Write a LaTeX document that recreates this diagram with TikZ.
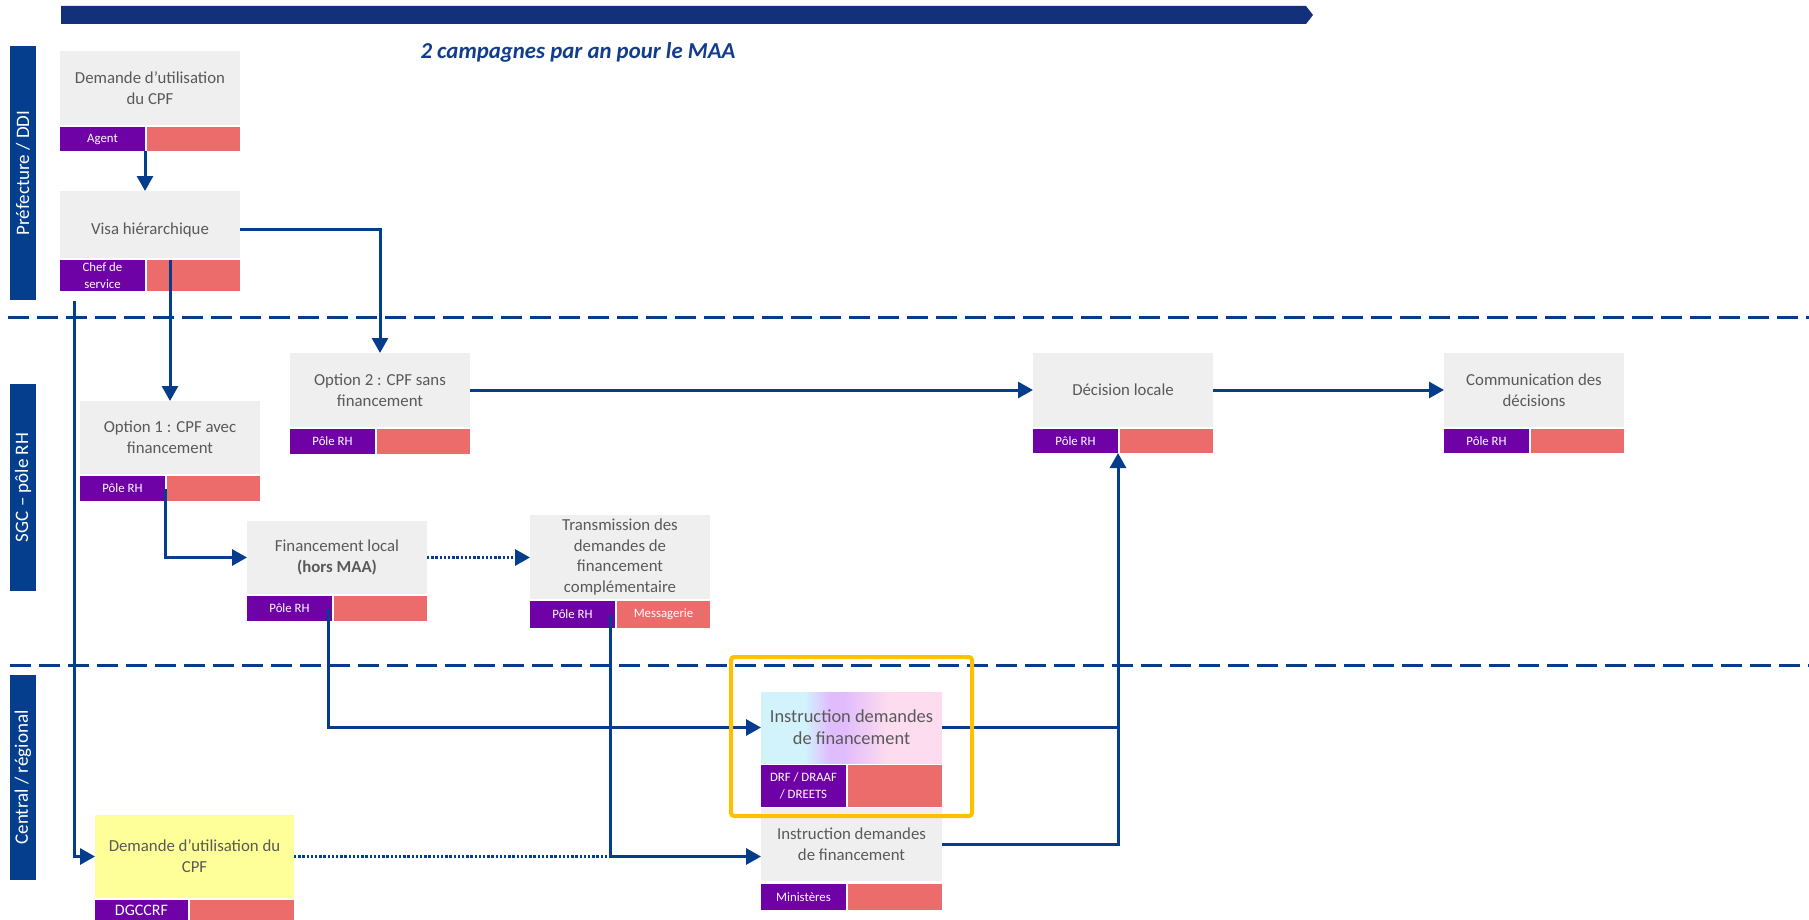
\documentclass[tikz,border=0pt]{standalone}
\usepackage{fontspec}
\setmainfont{Carlito}
\usepackage{xcolor}
\usepackage{tikz}
\usetikzlibrary{positioning,arrows.meta,calc}
\definecolor{navy}{HTML}{13317A}
\definecolor{flow}{HTML}{033D8B}
\definecolor{lane}{HTML}{043E8C}
\definecolor{titleblue}{HTML}{123C8C}
\definecolor{rolebg}{HTML}{6E02A6}
\definecolor{toolbg}{HTML}{EC6B6B}
\definecolor{boxbg}{HTML}{EFEFEF}
\definecolor{boxtxt}{HTML}{595959}
\definecolor{hilite}{HTML}{FFC000}
\definecolor{cpfbg}{HTML}{FFFF99}
\definecolor{gcyan}{HTML}{D2F3FC}
\definecolor{glav}{HTML}{E1BCFC}
\definecolor{gpink}{HTML}{FCDCEE}
\pgfdeclarehorizontalshading{instrshade}{100bp}{color(0bp)=(gcyan); color(25bp)=(gcyan); color(37bp)=(gcyan); color(44bp)=(glav); color(48bp)=(glav); color(60bp)=(gpink); color(75bp)=(gpink); color(100bp)=(gpink)}

\begin{document}
\begin{tikzpicture}[
    x=0.5pt, y=-0.5pt,
    body/.style={fill=boxbg, text=boxtxt, minimum width=90pt, minimum height=37pt, align=center, inner sep=2pt, outer sep=0pt, anchor=north west, font=\fontsize{8.4}{10.4}\selectfont},
    role/.style={fill=rolebg, text=white, minimum width=42.5pt, minimum height=12.5pt, inner sep=0pt, outer sep=0pt, align=center, font=\fontsize{6.4}{8.2}\selectfont},
    tool/.style={fill=toolbg, text=white, minimum width=46.5pt, minimum height=12.5pt, inner sep=0pt, outer sep=0pt, font=\fontsize{6.4}{8.2}\selectfont},
    lanelbl/.style={fill=lane, text=white, rotate=90, minimum height=13pt, inner sep=0pt, font=\fontsize{9.5}{11}\selectfont},
    sep/.style={draw=flow, line width=1.5pt, dash pattern=on 10.5pt off 4pt},
    link/.style={draw=flow, line width=1.5pt},
    arr/.style={link, -{Triangle[length=7.5pt,width=8pt]}},
    dots/.style={draw=flow, line width=1.5pt, dash pattern=on 1.2pt off 0.9pt}
]
    \useasboundingbox (0,0) rectangle (1809,920);

    % timeline and lanes
    \fill[navy] (61,6) -- (1306,6) -- (1313,15) -- (1306,24) -- (61,24) -- cycle;
    \node[font=\bfseries\itshape\fontsize{11.4}{13}\selectfont, text=titleblue] (camp) at (578,52) {2 campagnes par an pour le MAA};
    \draw[sep] (8,317) -- (1809,317);
    \draw[sep] (10,665) -- (1809,665);
    \node[lanelbl, minimum width=127pt] (prefecture) at (23,173) {Préfecture / DDI};
    \node[lanelbl, minimum width=103.5pt] (sgc) at (23,487.5) {SGC – pôle RH};
    \node[lanelbl, minimum width=102.5pt] (central) at (23,777.5) {Central / régional};

    % Préfecture / DDI
    \node[body] (dem) at (60,51) {Demande d’utilisation\\du CPF};
    \node[role, minimum height=12pt, below=1pt of dem.south west, anchor=north west] (demr) {Agent};
    \node[tool, minimum height=12pt, right=1pt of demr] (demt) {};

    \node[body, minimum height=33.5pt, text height=11pt] (visa) at (60,191) {Visa hiérarchique};
    \node[role, minimum height=15.5pt, below=1pt of visa.south west, anchor=north west] (visar) {Chef de\\service};
    \node[tool, minimum height=15.5pt, right=1pt of visar] (visat) {};

    % SGC - pole RH
    \node[body, minimum height=36.5pt] (opt1) at (80,401) {Option 1 : CPF avec\\financement};
    \node[role, below=1pt of opt1.south west, anchor=north west] (opt1r) {Pôle RH};
    \node[tool, right=1pt of opt1r] (opt1t) {};

    \node[body] (opt2) at (290,353) {Option 2 : CPF sans\\financement};
    \node[role, below=1pt of opt2.south west, anchor=north west] (opt2r) {Pôle RH};
    \node[tool, right=1pt of opt2r] (opt2t) {};

    \node[body, minimum height=36.5pt] (finloc) at (247,521) {Financement local\\\textbf{(hors MAA)}};
    \node[role, below=1pt of finloc.south west, anchor=north west] (finlocr) {Pôle RH};
    \node[tool, right=1pt of finlocr] (finloct) {};

    \node[body, minimum height=42pt, inner sep=0pt] (trans) at (530,515) {Transmission des\\demandes de\\financement\\complémentaire};
    \node[role, minimum height=13.5pt, below=1pt of trans.south west, anchor=north west] (transr) {Pôle RH};
    \node[tool, minimum height=13.5pt, right=1pt of transr] (transt) {Messagerie};

    \node[body] (dec) at (1033,353) {Décision locale};
    \node[role, minimum height=12pt, below=1pt of dec.south west, anchor=north west] (decr) {Pôle RH};
    \node[tool, minimum height=12pt, right=1pt of decr] (dect) {};

    \node[body] (comm) at (1444,353) {Communication des\\décisions};
    \node[role, minimum height=12pt, below=1pt of comm.south west, anchor=north west] (commr) {Pôle RH};
    \node[tool, minimum height=12pt, right=1pt of commr] (commt) {};

    % Central / regional
    \node[body, shading=instrshade, minimum width=90.5pt, minimum height=35.5pt, font=\fontsize{9.2}{11}\selectfont] (instr) at (761,692) {Instruction demandes\\de financement};
    \node[role, minimum height=21pt, below=1pt of instr.south west, anchor=north west] (instrr) {DRF / DRAAF\\/ DREETS};
    \node[tool, minimum width=47pt, minimum height=21pt, right=1pt of instrr] (instrt) {};

    \node[body, minimum width=90.5pt, minimum height=36.5pt] (minis) at (761,808) {Instruction demandes\\de financement};
    \node[role, minimum height=13pt, below=1.5pt of minis.south west, anchor=north west] (minisr) {Ministères};
    \node[tool, minimum width=47pt, minimum height=13pt, right=1pt of minisr] (minist) {};

    \node[body, fill=cpfbg, minimum width=99.5pt, minimum height=41.5pt] (cpf) at (95,815) {Demande d’utilisation du\\CPF};
    \node[role, minimum width=46.5pt, minimum height=10pt, font=\fontsize{8}{9}\selectfont, below=1pt of cpf.south west, anchor=north west] (cpfr) {DGCCRF};
    \node[tool, minimum width=52pt, minimum height=10pt, right=1pt of cpfr] (cpft) {};

    % connectors
    \coordinate (down) at ($(visar.south west)+(14,10)$);
    \coordinate (finout) at ($(finlocr.east)+(-4,0)$);
    \coordinate (transout) at ($(transr.east)+(-5,0)$);
    \coordinate (merge) at (transout |- cpf.east);
    \coordinate (join) at (decr.south east |- instr.east);
    \draw[arr] (demr.south east) -- (visa.north -| demr.south east);
    \draw[arr] ($(visa.east)+(0,5)$) -| (opt2.north);
    \draw[arr] (opt1.north |- visar.north) -- (opt1.north);
    \draw[arr] (down) |- (cpf.west);
    \draw[arr] (opt1r.east) |- (finloc.west);
    \draw[arr, dots] (finloc.east) -- (trans.west |- finloc.east);
    \draw[arr] (finout) |- (instr.west);
    \draw[dots] (cpf.east) -- (merge);
    \draw[link] (transout) -- (merge);
    \draw[arr] (merge) -- (minis.west |- merge);
    \draw[arr] (instr.east) -| (decr.south east);
    \draw[link] (minis.east) -| (join);
    \draw[arr] (opt2.east) -- (dec.west);
    \draw[arr] (dec.east) -- (comm.west);

    % highlight
    \draw[hilite, line width=2pt, rounded corners=1.5pt] (731,657) rectangle (972,816);
\end{tikzpicture}
\end{document}
